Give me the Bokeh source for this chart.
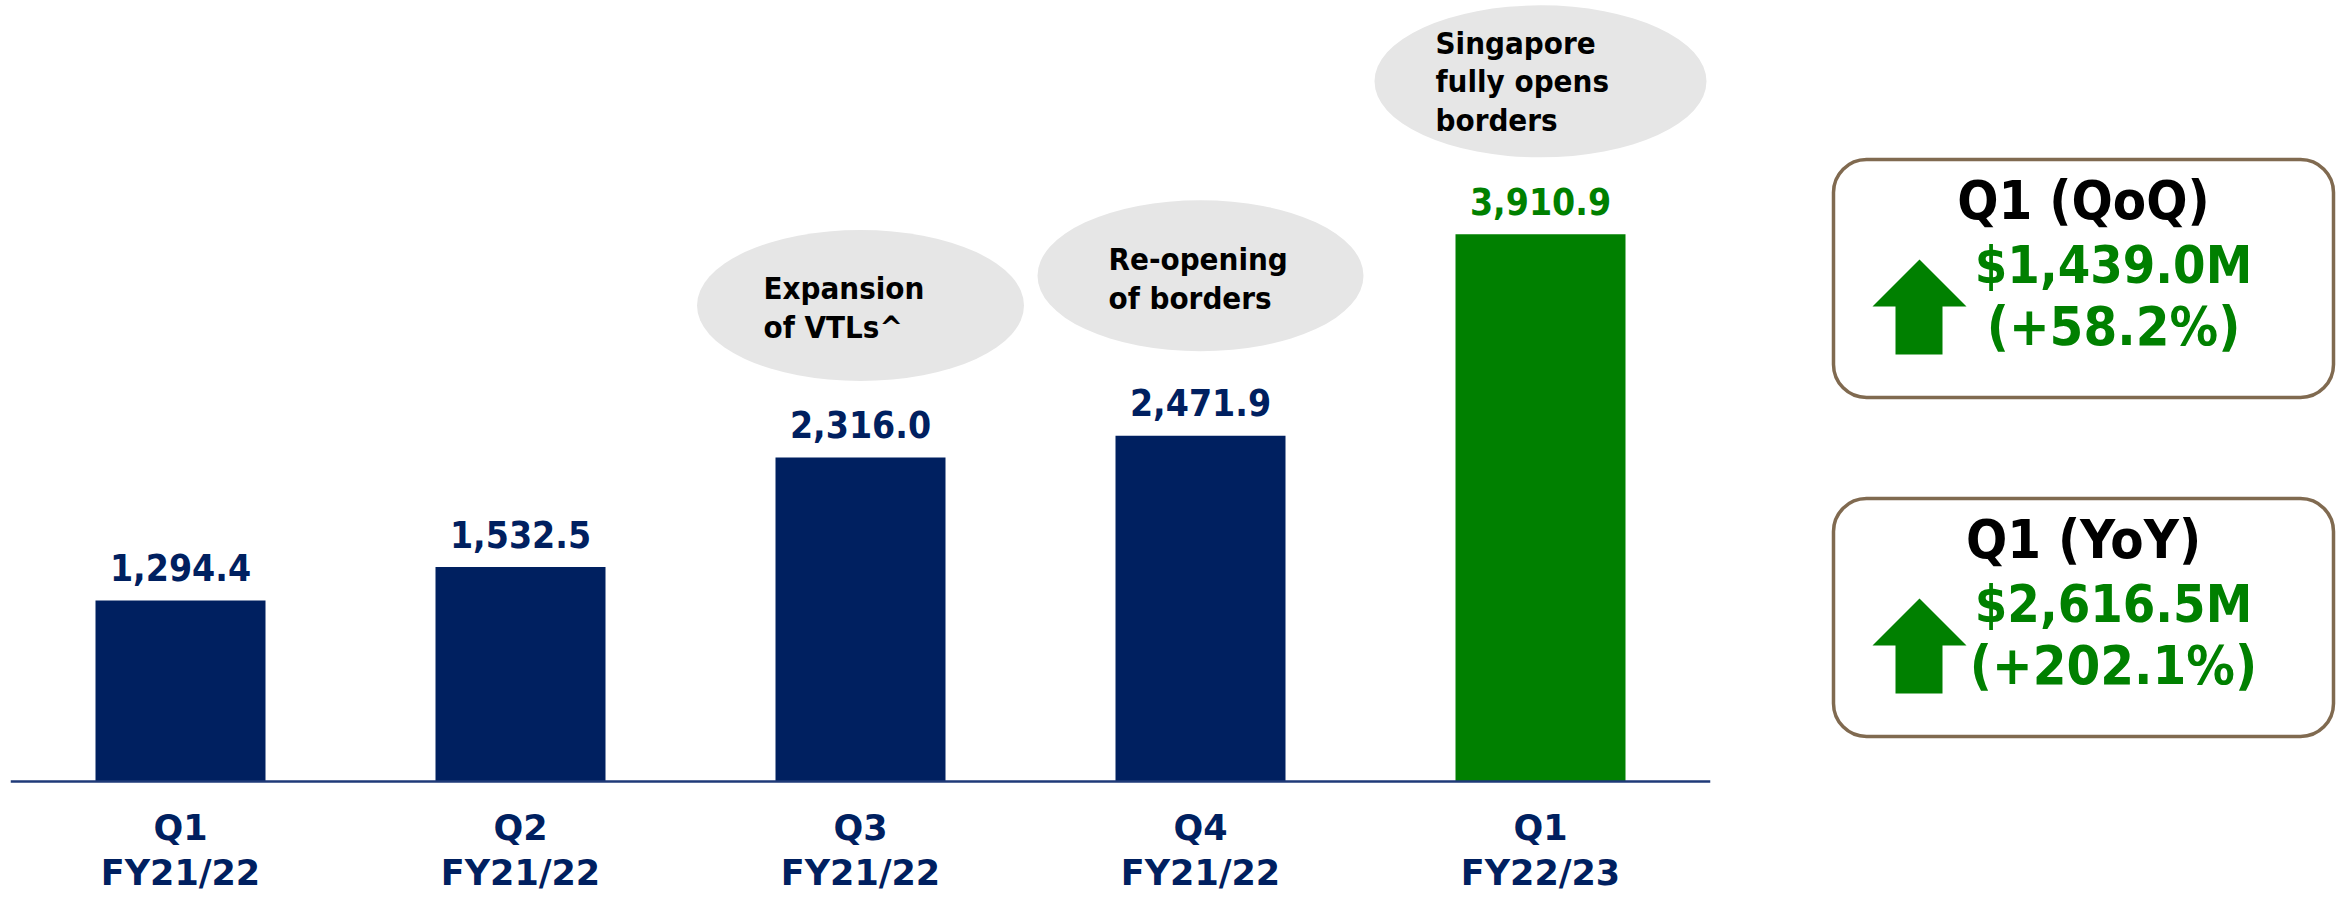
from bokeh.plotting import figure
from bokeh.models import ColumnDataSource, FactorRange, Range1d, Span, BoxAnnotation
from bokeh.layouts import row
from bokeh.core.properties import value
from bokeh.embed import file_html
from bokeh.resources import INLINE

# ---------------- data ----------------
quarters = ["Q1", "Q2", "Q3", "Q4", "Q1"]
fiscal_years = ["FY21/22", "FY21/22", "FY21/22", "FY21/22", "FY22/23"]
revenue = [1294.4, 1532.5, 2316.0, 2471.9, 3910.9]
highlight = [False, False, False, False, True]

note_bars = [2, 3, 4]
note_lines = [["Expansion", "of VTLs^"],
              ["Re-opening", "of borders"],
              ["Singapore", "fully opens", "borders"]]

box_titles = ["Q1 (QoQ)", "Q1 (YoY)"]
box_amounts = ["$1,439.0M", "$2,616.5M"]
box_pcts = ["(+58.2%)", "(+202.1%)"]

# ---------------- style ----------------
NAVY = "#002060"
GREEN = "#008000"
BUBBLE = "#E6E6E6"
BORDER = "#806A50"
COND = "DejaVu Sans Condensed, DejaVu Sans"
WIDE = "DejaVu Sans"
H = 897
LW = 1728
RW = 616
FRAME_L = 10
FRAME_W = 1700
BASE = 781          # screen row of the zero line
UPP = 7.148         # data units per pixel
SHIFT = 0.4         # baseline correction (em)


def off(px, fs):
    """screen y offset (down positive) so the alphabetic baseline lands px below anchor"""
    return px - SHIFT * fs


factors = [f"{q} {fy}" for q, fy in zip(quarters, fiscal_years)]
y0, y1 = -(H - BASE) * UPP, BASE * UPP

p = figure(x_range=FactorRange(*factors, range_padding=0), y_range=Range1d(y0, y1),
           width=LW, height=H, output_backend="svg", toolbar_location=None,
           x_axis_location=None, y_axis_location=None,
           min_border_left=FRAME_L, min_border_right=LW - FRAME_L - FRAME_W,
           min_border_top=0, min_border_bottom=0)
p.grid.visible = False
p.outline_line_color = None
p.background_fill_color = "white"
p.border_fill_color = "white"

src = ColumnDataSource(dict(
    x=factors,
    v=revenue,
    label=[f"{v:,.1f}" for v in revenue],
    color=[GREEN if h else NAVY for h in highlight],
    q=quarters,
    fy=fiscal_years,
))

p.vbar(x="x", top="v", width=0.5, fill_color="color", line_color=None, source=src)
p.add_layout(Span(location=0, dimension="width", line_color="#1F3A78", line_width=2.5))

p.text(x="x", y="v", text="label", text_color="color", text_font=value(COND),
       text_font_style="bold", text_font_size="37px", text_align="center",
       text_baseline="alphabetic", y_offset=off(-18, 37), source=src)

CFS = 35
p.text(x="x", y=0, text="q", text_color=NAVY, text_font=value(WIDE),
       text_font_style="bold", text_font_size=f"{CFS}px", text_align="center",
       text_baseline="alphabetic", y_offset=off(60, CFS), source=src)
p.text(x="x", y=0, text="fy", text_color=NAVY, text_font=value(WIDE),
       text_font_style="bold", text_font_size=f"{CFS}px", text_align="center",
       text_baseline="alphabetic", y_offset=off(105, CFS), source=src)

# callout bubbles
bub_up = [152, 160, 153]      # px above bar top
bub_w = [327, 326, 332]
bub_h = [151, 151, 152]
txt_dx = [-97, -92, -105]
txt_first = [157, 164, 179]
LINE = 38.5
NFS = 31

ex, ey, ew, eh = [], [], [], []
tx, ty, tt, tdx, tdy = [], [], [], [], []
for k, i in enumerate(note_bars):
    ex.append(factors[i])
    ey.append(revenue[i] + bub_up[k] * UPP)
    ew.append(bub_w[k])
    eh.append(bub_h[k])
    for j, line in enumerate(note_lines[k]):
        tx.append(factors[i])
        ty.append(revenue[i])
        tt.append(line)
        tdx.append(txt_dx[k])
        tdy.append(off(-txt_first[k] + j * LINE, NFS))

p.ellipse(x=ex, y=ey, width=ew, height=eh, width_units="screen", height_units="screen",
          fill_color=BUBBLE, line_color=None)
tsrc = ColumnDataSource(dict(x=tx, y=ty, t=tt, dx=tdx, dy=tdy))
p.text(x="x", y="y", text="t", x_offset="dx", y_offset="dy", text_color="black",
       text_font=value(COND), text_font_style="bold", text_font_size=f"{NFS}px",
       text_align="left", text_baseline="alphabetic", source=tsrc)

# ---------------- right panel ----------------
q = figure(x_range=Range1d(0, RW), y_range=Range1d(0, H), width=RW, height=H,
           output_backend="svg", toolbar_location=None,
           x_axis_location=None, y_axis_location=None,
           min_border_left=0, min_border_right=0, min_border_top=0, min_border_bottom=0)
q.grid.visible = False
q.outline_line_color = None

box_tops = [159, 498]
BOX_H = 238
TFS, GFS, PFS = 54, 52, 54
for b, top in enumerate(box_tops):
    q.add_layout(BoxAnnotation(left=105, right=605, top=H - top, bottom=H - top - BOX_H,
                               fill_color="white", fill_alpha=1.0,
                               line_color=BORDER, line_alpha=1.0, line_width=3.5,
                               border_radius=33, level="underlay"))
    q.patch(x=[191, 238, 214, 214, 167, 167, 144],
            y=[H - top - 100, H - top - 147, H - top - 147, H - top - 195,
               H - top - 195, H - top - 147, H - top - 147],
            fill_color=GREEN, line_color=None)
    q.text(x=[355], y=[H - top - 63 + SHIFT * TFS], text=[box_titles[b]], text_color="black",
           text_font=value(COND), text_font_style="bold", text_font_size=f"{TFS}px",
           text_align="center", text_baseline="alphabetic")
    q.text(x=[385], y=[H - top - 126 + SHIFT * GFS],
           text=[box_amounts[b]], text_color=GREEN,
           text_font=value(COND), text_font_style="bold", text_font_size=f"{GFS}px",
           text_align="center", text_baseline="alphabetic")
    q.text(x=[385], y=[H - top - 189 + SHIFT * PFS],
           text=[box_pcts[b]], text_color=GREEN,
           text_font=value(COND), text_font_style="bold", text_font_size=f"{PFS}px",
           text_align="center", text_baseline="alphabetic")

layout = row(p, q)
open("out.html", "w").write(file_html(layout, INLINE))
